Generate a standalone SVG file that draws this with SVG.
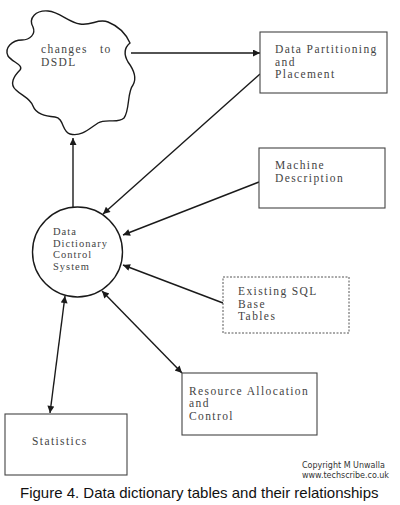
<svg xmlns="http://www.w3.org/2000/svg" width="400" height="505" viewBox="0 0 400 505">
<style>
.t{font-family:"Liberation Serif","Times New Roman","DejaVu Serif","Noto Serif",serif;fill:#444;letter-spacing:1.4px;font-size:11.5px}
.s{font-size:10.5px;letter-spacing:1px}
.box{fill:#fff;stroke:#444;stroke-width:1.1}
.ln{stroke:#1a1a1a;stroke-width:1.4;fill:none}
</style>
<defs>
<marker id="ah" viewBox="0 0 10 10" refX="10" refY="5" markerWidth="9" markerHeight="7" markerUnits="userSpaceOnUse" orient="auto-start-reverse">
<path d="M0,0 L10,5 L0,10 Z" fill="#1a1a1a"/>
</marker>
</defs>
<rect width="400" height="505" fill="#fff"/>
<g id="connectors">
<line class="ln" x1="131" y1="53" x2="260" y2="53" marker-end="url(#ah)"/>
<line class="ln" x1="260" y1="74" x2="103" y2="214" marker-end="url(#ah)"/>
<line class="ln" x1="73" y1="207" x2="73" y2="138" marker-end="url(#ah)"/>
<line class="ln" x1="259" y1="182" x2="123" y2="235" marker-end="url(#ah)"/>
<line class="ln" x1="223" y1="303" x2="123" y2="265" marker-end="url(#ah)"/>
<line class="ln" x1="102" y1="291" x2="182" y2="373" marker-start="url(#ah)" marker-end="url(#ah)"/>
<line class="ln" x1="65" y1="296" x2="50" y2="413" marker-start="url(#ah)" marker-end="url(#ah)"/>
</g>
<g id="cloud">
<path d="M33,27 C28,18 36,10 48,11 C60,12 68,22 80,24 C92,26 98,18 108,22 C118,26 126,34 130,43 C124,48 124,55 128,62 C134,70 137,78 133,85 C127,92 130,110 124,118 C118,124 106,118 98,123 C90,128 82,137 70,134 C62,132 64,118 55,117 C45,116 36,114 33,106 C30,98 22,96 16,90 C9,84 14,76 20,70 C24,65 12,62 8,56 C4,48 12,40 22,40 C30,40 36,34 33,27 Z" fill="#fff" stroke="#1a1a1a" stroke-width="1.4"/>
<text class="t" x="41" y="53">changes <tspan x="100">to</tspan></text>
<text class="t" x="41" y="66">DSDL</text>
</g>
<g id="partitioning">
<rect class="box" x="260" y="32" width="127" height="61"/>
<text class="t" x="275" y="53">Data Partitioning</text>
<text class="t" x="275" y="65.5">and</text>
<text class="t" x="275" y="78">Placement</text>
</g>
<g id="circle">
<circle cx="77.5" cy="252" r="45" fill="#fff" stroke="#1a1a1a" stroke-width="1.4"/>
<text class="t s" x="53" y="235">Data</text>
<text class="t s" x="53" y="246.5">Dictionary</text>
<text class="t s" x="53" y="258">Control</text>
<text class="t s" x="53" y="269.5">System</text>
</g>
<g id="machine">
<rect class="box" x="259" y="148" width="126" height="60"/>
<text class="t" x="275" y="169">Machine</text>
<text class="t" x="275" y="181.5">Description</text>
</g>
<g id="existing">
<rect x="223" y="277" width="126" height="56" fill="#fff" stroke="#555" stroke-width="1" stroke-dasharray="2,1.5"/>
<text class="t" x="238" y="295">Existing SQL</text>
<text class="t" x="238" y="307.5">Base</text>
<text class="t" x="238" y="320">Tables</text>
</g>
<g id="resource">
<rect class="box" x="182" y="373" width="135" height="62"/>
<text class="t" x="189" y="394.5">Resource Allocation</text>
<text class="t" x="189" y="407">and</text>
<text class="t" x="189" y="419.5">Control</text>
</g>
<g id="statistics">
<rect class="box" x="5" y="414" width="122" height="61"/>
<text class="t" x="32" y="445">Statistics</text>
</g>
<g id="labels">
<text x="302" y="468" font-family="DejaVu Sans,Verdana,sans-serif" font-size="8" fill="#333">Copyright M Unwalla</text>
<text x="302" y="478" font-family="DejaVu Sans,Verdana,sans-serif" font-size="8" fill="#333">www.techscribe.co.uk</text>
<text x="20" y="498" font-family="Liberation Sans,Arial,sans-serif" font-size="15" fill="#111">Figure 4. Data dictionary tables and their relationships</text>
</g>
</svg>
